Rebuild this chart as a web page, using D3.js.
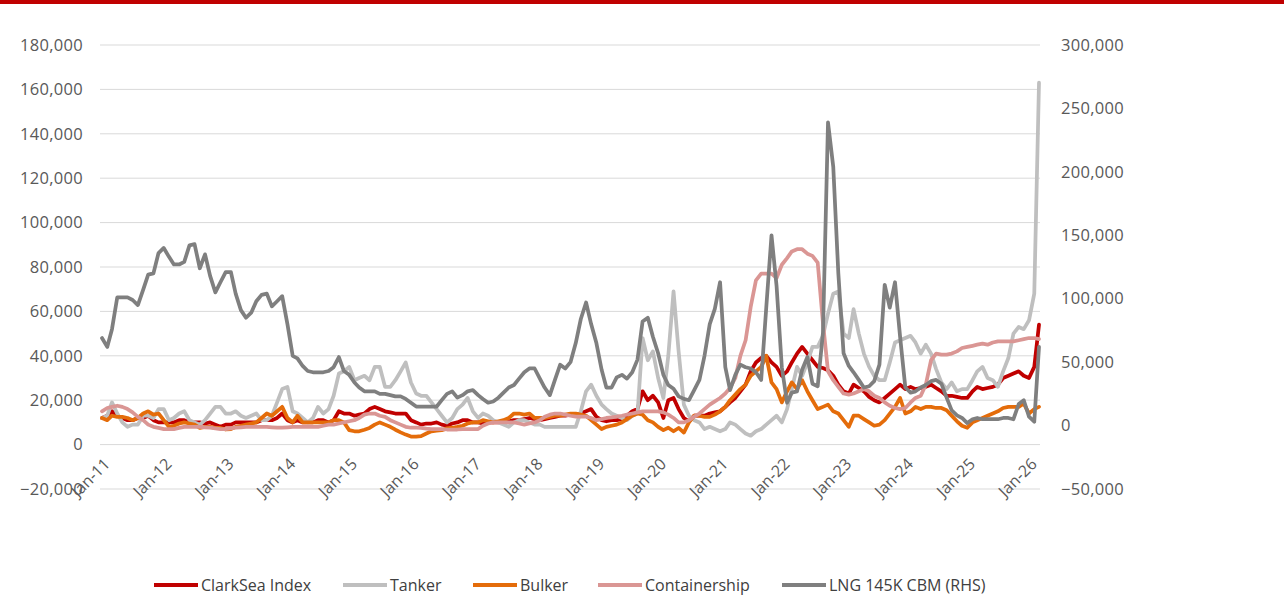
<!DOCTYPE html>
<html>
<head>
<meta charset="utf-8">
<script src="https://cdn.jsdelivr.net/npm/d3@7/dist/d3.min.js"></script>
<style>
  html, body { margin: 0; padding: 0; background: #fff; }
  svg { display: block; font-family: "Open Sans", sans-serif; }
</style>
</head>
<body>
<svg id="chart" width="1284" height="596"></svg>
<script>
// monthly earnings, $/day in thousands, Jan-11 .. Mar-26
const clarksea = [
  12,13,15,13,12,11,11,12,12,13,11,10,
  10,10,10,11,11,10,10,10,9.5,10,9,8,
  9,9,10,10,10,10,10,11,11,11,12,14,
  11,10,11,10,10,10,11,11,10,11,15,14,
  14,13,13.5,14,16,17,16,15,14.5,14,14,14,
  11,10,9,9.5,9.5,10,9,8.5,9.5,10,11,11,
  10,10,9.5,10,10,10,10,10.5,11,11,11.5,12,
  11.5,11,11.5,12,12.5,13,13,13.5,13,14,15,16,
  12.5,11,10.5,11,11,11.5,13,15,16,24,20,22,
  19,12,20,21,16,12,10.5,13,13,13,14,14.5,
  15,17,19,21,24,27,33,37,39,40,37,35,
  31,33,37,41,44,41,38,35,34.5,33.5,31,27,
  24,23,27,25.5,24,21.5,20,19,21,23,25,27,
  25,26,25,25.5,26,27,25.5,24,22,22,21.5,21,
  21,24,26,25,25.5,26,27,30,31,32,33,31,
  30,35,54
];
const tanker = [
  12,13,19,14,10,8,9,9,13,13,12,16,
  16,11,12,14,15,11,10,9,11,14,17,17,
  14,14,15,13,12,13,14,11,11,13,19,25,
  26,15,14,12,10,12,17,14,16,22,32,33,
  35,29,30,31,29,35,35,26,26,29,33,37,
  28,23,22,22,19,16,13,10,12,16,18,21,
  15,12,14,13,11,10,9,8,10,11,11,10,
  9,9,8,8,8,8,8,8,8,15,24,27,
  22,18,16,14,13,12,11,13,14,48,38,42,
  30,21,40,69,42,18,13,11,10,7,8,7,
  6,7,10,9,7,5,4,6,7,9,11,13,
  10,16,25,35,31,37,44,44,49,59,68,69,
  50,48,61,50,41,35,31,29,29,37,46,47,
  48,49,46,41,45,41,34,28,25,28,24,25,
  25,29,33,35,30,29,26,33,39,50,53,52,
  56,68,163
];
const bulker = [
  12,11,13,12.5,12.5,12,11,12,14,15,13.5,14,
  11,8,8.5,9.5,10,9.5,9,7.5,8,8,7.5,7.5,
  6.8,7,8,8.5,9,9.5,10,12,14,13,15,17,
  12,10,13,10,10,10,10,10,10,11,11,10,
  6.5,6,6,6.7,7.5,9,10,9,8,6.7,5.5,4.5,
  3.6,3.6,3.8,5,6,6.3,6.5,7.3,7.6,8,8.5,9.5,
  10,10,11,10.5,10,10.5,11,12,14,14,13.5,14,
  12,12,12,12.5,13,13,13.5,14,14,13.5,13,11,
  9,7,8,8.5,9,10,11.5,13,14,13.5,11,10,
  8,6.5,7.6,6,7.5,5.4,10,13,13,12.5,12.5,13.5,
  15,17,20,22.5,25,27,31,33,35,40,28,25,
  19,24,28,25,29,24,20,16,17,18,15,14,
  11,8,13,13,11.5,10,8.5,9,11,14,17,21,
  14,15,17,16,17,17,16.5,16.5,15.5,13,10.5,8.5,
  7.6,10,11,12,13,14,15,16.5,17,17,17,18.5,
  14,16,17
];
const containership = [
  15,16.5,17,17.5,17,16,14.5,12.5,11,9,8,7.5,
  7,7,7,7.5,8,8,8,8,7.8,7.6,7.3,7,
  7,7.3,7.6,7.8,8,8,8,8,8,7.8,7.6,7.6,
  7.8,8,8,8,8,8,8,8.5,9,9,9.5,10,
  10.5,11,12,13.5,14,14,13,12.5,11,10,9,8,
  7.6,7.6,7.5,7.2,7,7,7,6.8,6.7,6.8,7,7,
  7,7,8.5,9.5,10,10,10,10,10,9.5,9,9.5,
  10,11,12.6,13.5,14,14,13.5,13,12.6,12.6,12.6,12,
  11,11.5,12,12.3,12.6,13,13.5,14,14.5,15,15,15,
  15,14.5,13.5,12,10,10,11,12.6,14,16,18,19.5,
  21,23,25.5,30,40,47,62,74,77,77,77,75,
  81,84,87,88,88,86,85,82,55,33,29,26,
  23,22.5,23,24,25,24,22,21,19,17.5,16.5,16,
  16.5,19,21,22,27,38,41,40.5,40.5,41,42,43.5,
  44,44.5,45,45.5,45,46,46.5,46.5,46.5,46.5,47,47.5,
  48,48,47.5
];
// right-hand axis
const lng = [
  69,62,76,101,101,101,99,95,107,119,120,136,
  140,133,127,127,129,142,143,124,135,118,105,113,
  121,121,104,91,85,89,98,103,104,94,98,102,
  80,55,53,47,43,42,42,42,43,46,54,43,
  40,34,30,27,27,27,25,25,24,23,23,21,
  18,15,15,15,15,15,20,25,27,22,24,27,
  28,24,21,18,19,22,26,30,32,37,42,45,
  45,37,30,24,36,48,45,50,65,84,97,80,
  65,44,30,30,38,40,37,42,52,82,85,70,
  57,40,32,29,23,21,20,28,36,55,80,92,
  113,46,28,40,48,46,45,42,36,93,150,110,
  46,18,26,27,44,54,33,31,73,239,204,120,
  57,47,42,36,30,31,35,48,111,93,113,70,
  30,26,27,30,32,35,36,33,22,12,8,6,
  2,5,6,5,5,5,5,6,6,5,17,20,
  7,3,62
];

const leftTicks = [-20, 0, 20, 40, 60, 80, 100, 120, 140, 160, 180];
const rightTicks = [-50, 0, 50, 100, 150, 200, 250, 300];
const yearTicks = d3.range(2011, 2027);

const series = [
  { name: "ClarkSea Index", values: clarksea, color: "#c00000", axis: "L" },
  { name: "Tanker", values: tanker, color: "#bfbfbf", axis: "L" },
  { name: "Bulker", values: bulker, color: "#e46c0a", axis: "L" },
  { name: "Containership", values: containership, color: "#da9694", axis: "L" },
  { name: "LNG 145K CBM (RHS)", values: lng, color: "#7f7f7f", axis: "R" }
];

const svg = d3.select("#chart");
const months = d3.range(clarksea.length).map(i => new Date(2011, i, 1));

const x = d3.scaleTime()
  .domain([months[0], months[months.length - 1]])
  .range([102, 1039]);
const yL = d3.scaleLinear().domain([-20, 180]).range([489, 45]);
const yR = d3.scaleLinear().domain([-50, 300]).range([489, 45]);
const fmt = d => d3.format(",")(d * 1000);

// red band at the top
svg.append("rect").attr("x", 0).attr("y", 0).attr("width", 1284).attr("height", 4).attr("fill", "#c00000");

// gridlines
svg.append("g").selectAll("line").data(leftTicks).join("line")
  .attr("x1", 100).attr("x2", 1040)
  .attr("y1", d => yL(d)).attr("y2", d => yL(d))
  .attr("stroke", "#d9d9d9").attr("stroke-width", 1);

// left axis
const axL = svg.append("g").attr("transform", "translate(83,0)")
  .call(d3.axisLeft(yL).tickValues(leftTicks).tickFormat(fmt).tickSize(0).tickPadding(0));
axL.select(".domain").remove();

// right axis
const axR = svg.append("g").attr("transform", "translate(1061,0)")
  .call(d3.axisRight(yR).tickValues(rightTicks).tickFormat(fmt).tickSize(0).tickPadding(0));
axR.select(".domain").remove();

svg.selectAll(".tick text")
  .attr("fill", "#595959")
  .style("font-family", "'Open Sans', sans-serif")
  .style("font-size", "16.5px")
  .style("letter-spacing", "0.3px");

// x labels, rotated
svg.append("g").selectAll("text").data(yearTicks).join("text")
  .attr("transform", d => `translate(${x(new Date(d, 0, 1)) + 9},465) rotate(-45)`)
  .attr("text-anchor", "end")
  .attr("fill", "#595959")
  .style("font-size", "16px")
  .text(d => "Jan-" + String(d).slice(2));

// lines
const plot = svg.append("g");
series.forEach(s => {
  const y = s.axis === "L" ? yL : yR;
  const line = d3.line()
    .x((d, i) => x(months[i]))
    .y(d => y(d));
  plot.append("path")
    .datum(s.values)
    .attr("d", line)
    .attr("fill", "none")
    .attr("stroke", s.color)
    .attr("stroke-width", 3.75)
    .attr("stroke-linejoin", "round")
    .attr("stroke-linecap", "round");
});

// legend
const legendX = [154, 343, 473, 598, 782];
const legend = svg.append("g");
series.forEach((s, i) => {
  const x0 = legendX[i];
  legend.append("line")
    .attr("x1", x0).attr("x2", x0 + 44)
    .attr("y1", 585).attr("y2", 585)
    .attr("stroke", s.color).attr("stroke-width", 4);
  legend.append("text")
    .attr("x", x0 + 47).attr("y", 585).attr("dy", "0.35em")
    .attr("fill", "#404040")
    .style("font-size", "16px")
    .text(s.name);
});
</script>
</body>
</html>
